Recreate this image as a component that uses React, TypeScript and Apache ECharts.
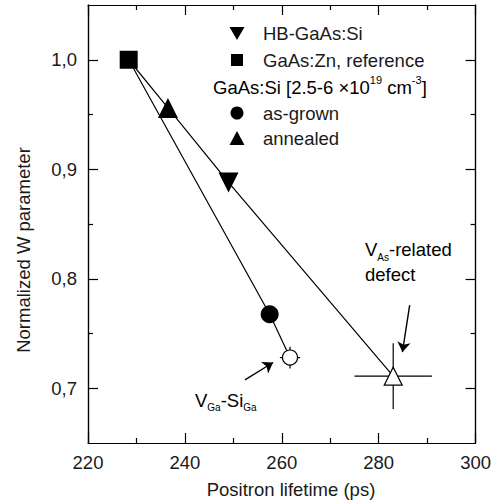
import React, { useEffect, useRef } from "react";
import * as echarts from "echarts";

// ---- data ----
const X_MIN = 220;
const X_MAX = 300;
const X_STEP = 20;
const Y_MIN = 0.65;
const Y_MAX = 1.05;
const Y_MAJOR = [0.7, 0.8, 0.9, 1.0];
const Y_MINOR = [0.75, 0.85, 0.95];

// [positron lifetime (ps), normalized W]
const REF_ZN = [[228.4, 1.0]];
const HB_SI = [[249.0, 0.888]];
const AS_GROWN = [[257.5, 0.7676]];
const ANNEALED = [[236.5, 0.956]];
const VGA_SIGA = [[261.7, 0.728]];
const VAS_DEFECT = [[283.0, 0.711]];
// [x, y, xErr, yErr]
const ERRORS = [
  [261.7, 0.728, 2.1, 0.01],
  [283.0, 0.711, 8.0, 0.03],
];
// connecting lines
const UPPER_LINE = [[228.4, 1.0], [236.5, 0.956], [249.0, 0.888], [283.0, 0.711]];
const LOWER_LINE = [[228.4, 1.0], [257.5, 0.7676], [261.7, 0.728]];
// annotation arrows [tail, head]
const ARROW_VGA = [[252.4, 0.7076], [258.2, 0.7235]];
const ARROW_VAS = [[286.4, 0.776], [284.9, 0.733]];

const FONT = "'Liberation Sans', Arial, Helvetica, sans-serif";
const FS = 18.5;
const INK = "#1a1a1a";
const LW = 1.2;

export default function App() {
  const ref = useRef<HTMLDivElement>(null);

  useEffect(() => {
    if (!ref.current) return;
    const chart = echarts.init(ref.current, null, { renderer: "svg" });
    const axisLine = { show: true, lineStyle: { color: "#000", width: LW } };
    const tickStyle = { color: "#000", width: LW };
    const yBase = (pos: string, values: number[], len: number, labels: boolean) => ({
      type: "value",
      position: pos,
      min: Y_MIN,
      max: Y_MAX,
      axisLine,
      axisTick: { show: true, inside: true, length: len, customValues: values, lineStyle: tickStyle },
      axisLabel: labels
        ? {
            show: true,
            customValues: values,
            margin: 11,
            fontSize: FS,
            fontFamily: FONT,
            color: INK,
            formatter: (v: number) => v.toFixed(1).replace(".", ","),
          }
        : { show: false },
      splitLine: { show: false },
    });
    const xBase = (pos: string, labels: boolean) => ({
      type: "value",
      position: pos,
      min: X_MIN,
      max: X_MAX,
      interval: X_STEP,
      axisLine,
      axisTick: { show: true, inside: true, length: 10, lineStyle: tickStyle },
      minorTick: { show: true, splitNumber: 2, length: 5, lineStyle: tickStyle },
      axisLabel: labels
        ? { show: true, margin: 10, fontSize: FS, fontFamily: FONT, color: INK }
        : { show: false },
      splitLine: { show: false },
      minorSplitLine: { show: false },
    });

    const scatter = (name: string, data: number[][], symbol: string, size: number, opts: any = {}) => ({
      name,
      type: "scatter",
      data,
      symbol,
      symbolSize: size,
      z: 5,
      itemStyle: { color: "#000", opacity: 1, ...(opts.itemStyle || {}) },
      symbolRotate: opts.rotate || 0,
      silent: true,
    });

    const textStyle = { fontFamily: FONT, fontSize: FS, fill: INK };
    const rich = {
      m: { fontFamily: FONT, fontSize: FS, color: INK, lineHeight: 25 },
      sub: { fontFamily: FONT, fontSize: 10, color: INK, verticalAlign: "bottom", lineHeight: 25 },
      sup: { fontFamily: FONT, fontSize: 11, color: INK, verticalAlign: "top", lineHeight: 25 },
    };

    const legendX = 237;
    const textX = 263;

    chart.setOption({
      animation: false,
      grid: { left: 88, top: 5, width: 390, height: 438 },
      xAxis: [xBase("bottom", true), xBase("top", false)],
      yAxis: [
        yBase("left", Y_MAJOR, 10, true),
        yBase("left", Y_MINOR, 5, false),
        yBase("right", Y_MAJOR, 10, false),
        yBase("right", Y_MINOR, 5, false),
      ],
      series: [
        {
          type: "line",
          data: UPPER_LINE,
          showSymbol: false,
          lineStyle: { color: "#000", width: LW },
          z: 2,
          silent: true,
          markLine: {
            silent: true,
            symbol: ["none", "arrow"],
            symbolSize: 10,
            label: { show: false },
            lineStyle: { color: "#000", width: 1.4, type: "solid", opacity: 1 },
            itemStyle: { color: "#000" },
            emphasis: { disabled: true },
            data: [
              [{ coord: ARROW_VGA[0] }, { coord: ARROW_VGA[1] }],
              [{ coord: ARROW_VAS[0] }, { coord: ARROW_VAS[1] }],
            ],
          },
        },
        {
          type: "line",
          data: LOWER_LINE,
          showSymbol: false,
          lineStyle: { color: "#000", width: LW },
          z: 2,
          silent: true,
        },
        {
          type: "custom",
          data: ERRORS,
          encode: { x: 0, y: 1 },
          z: 3,
          silent: true,
          renderItem: (_p: any, api: any) => {
            const x = api.value(0);
            const y = api.value(1);
            const ex = api.value(2);
            const ey = api.value(3);
            const l = api.coord([x - ex, y]);
            const r = api.coord([x + ex, y]);
            const t = api.coord([x, y + ey]);
            const b = api.coord([x, y - ey]);
            const st = { stroke: "#000", lineWidth: LW };
            return {
              type: "group",
              children: [
                { type: "line", shape: { x1: l[0], y1: l[1], x2: r[0], y2: r[1] }, style: st },
                { type: "line", shape: { x1: t[0], y1: t[1], x2: b[0], y2: b[1] }, style: st },
              ],
            };
          },
        },
        scatter("GaAs:Zn, reference", REF_ZN, "rect", 18),
        scatter("HB-GaAs:Si", HB_SI, "triangle", 20, { rotate: 180 }),
        scatter("annealed", ANNEALED, "triangle", 20),
        scatter("as-grown", AS_GROWN, "circle", 18),
        scatter("VGa-SiGa", VGA_SIGA, "circle", 15, {
          itemStyle: { color: "#fff", borderColor: "#000", borderWidth: LW },
        }),
        scatter("VAs-related defect", VAS_DEFECT, "triangle", 18, {
          itemStyle: { color: "#fff", borderColor: "#000", borderWidth: LW },
        }),
      ],
      graphic: [
        // legend symbols
        { type: "polygon", shape: { points: [[229.5, 27], [244.5, 27], [237, 40]] }, style: { fill: "#000" } },
        { type: "rect", shape: { x: legendX - 6, y: 54, width: 12, height: 12 }, style: { fill: "#000" } },
        { type: "circle", shape: { cx: legendX, cy: 113, r: 6.5 }, style: { fill: "#000" } },
        { type: "polygon", shape: { points: [[229.5, 145], [244.5, 145], [237, 131]] }, style: { fill: "#000" } },
        // legend texts
        { type: "text", x: textX, y: 33, style: { ...textStyle, text: "HB-GaAs:Si", verticalAlign: "middle" } },
        { type: "text", x: textX, y: 60, style: { ...textStyle, text: "GaAs:Zn, reference", verticalAlign: "middle" } },
        {
          type: "text",
          x: 213,
          y: 87,
          style: {
            text: "{m|GaAs:Si [2.5-6 ×10}{sup|19}{m| cm}{sup|-3}{m|]}",
            rich,
            verticalAlign: "middle",
          },
        },
        { type: "text", x: textX, y: 113, style: { ...textStyle, text: "as-grown", verticalAlign: "middle" } },
        { type: "text", x: textX, y: 138, style: { ...textStyle, text: "annealed", verticalAlign: "middle" } },
        // annotations
        {
          type: "text",
          x: 365,
          y: 262,
          style: { text: "{m|V}{sub|As}{m|-related}\n{m|defect}", rich, verticalAlign: "middle" },
        },
        {
          type: "text",
          x: 195,
          y: 400,
          style: { text: "{m|V}{sub|Ga}{m|-Si}{sub|Ga}", rich, verticalAlign: "middle" },
        },
        // axis titles
        {
          type: "text",
          x: 291,
          y: 489,
          style: { ...textStyle, text: "Positron lifetime (ps)", align: "center", verticalAlign: "middle" },
        },
        {
          type: "text",
          x: 23,
          y: 250,
          rotation: Math.PI / 2,
          style: { ...textStyle, text: "Normalized W parameter", align: "center", verticalAlign: "middle" },
        },
      ],
    });
    return () => chart.dispose();
  }, []);

  return <div ref={ref} style={{ width: 494, height: 504, position: "absolute", left: 0, top: 0 }} />;
}
